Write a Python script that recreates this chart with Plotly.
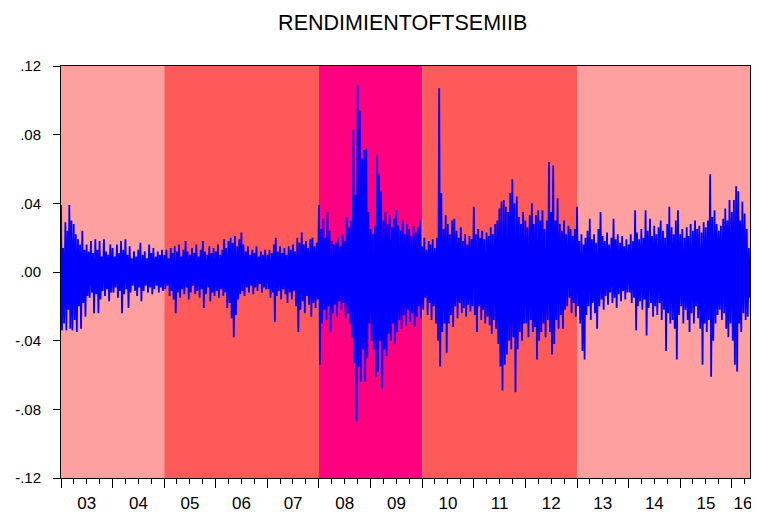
import pandas as pd
import plotly.graph_objects as go

# Half-month envelope of daily returns: highest (hi) and lowest (lo) value per half month
hi_03 = [.039,.014,.029,.024,.039,.030,.028,.022,.019,.016,.024,.013,.016,.012,.018,.011,.019,.013,.018,.009,.019,.012,.010,.016]
lo_03 = [-.034,-.030,-.034,-.022,-.033,-.034,-.028,-.035,-.020,-.033,-.018,-.026,-.014,-.015,-.012,-.024,-.013,-.024,-.016,-.011,-.014,-.010,-.017,-.012]
hi_04 = [.014,.009,.016,.011,.018,.013,.019,.010,.015,.008,.012,.009,.013,.017,.010,.012,.008,.016,.011,.014,.009,.012,.010,.013]
lo_04 = [-.012,-.009,-.015,-.011,-.024,-.013,-.010,-.021,-.012,-.008,-.011,-.014,-.009,-.017,-.011,-.008,-.012,-.009,-.013,-.010,-.008,-.012,-.009,-.011]
hi_05 = [.010,.013,.008,.014,.011,.015,.012,.016,.009,.013,.018,.012,.010,.014,.011,.016,.009,.013,.018,.012,.010,.015,.011,.014]
lo_05 = [-.010,-.008,-.014,-.011,-.016,-.024,-.012,-.015,-.010,-.013,-.009,-.016,-.012,-.008,-.013,-.011,-.015,-.010,-.021,-.013,-.009,-.017,-.012,-.014]
hi_06 = [.012,.016,.010,.013,.019,.014,.018,.020,.017,.021,.015,.019,.023,.016,.012,.015,.010,.013,.011,.015,.009,.012,.010,.013]
lo_06 = [-.011,-.015,-.010,-.014,-.012,-.021,-.018,-.027,-.038,-.025,-.016,-.013,-.011,-.014,-.009,-.012,-.008,-.013,-.009,-.011,-.007,-.012,-.009,-.010]
hi_07 = [.010,.013,.011,.016,.020,.012,.015,.011,.014,.010,.015,.013,.016,.012,.020,.017,.023,.016,.018,.014,.019,.020,.015,.017]
lo_07 = [-.010,-.015,-.012,-.029,-.014,-.011,-.016,-.010,-.013,-.018,-.012,-.016,-.011,-.020,-.035,-.022,-.017,-.024,-.014,-.019,-.026,-.018,-.021,-.016]
hi_08 = [.039,.025,.031,.020,.035,.024,.018,.016,.017,.020,.015,.022,.018,.032,.026,.030,.083,.045,.109,.094,.066,.071,.072,.035]
lo_08 = [-.054,-.030,-.022,-.028,-.020,-.035,-.024,-.019,-.026,-.017,-.022,-.018,-.027,-.024,-.030,-.038,-.053,-.087,-.055,-.064,-.045,-.064,-.050,-.030]
hi_09 = [.025,.022,.027,.068,.057,.047,.030,.035,.028,.033,.026,.031,.036,.027,.024,.030,.022,.028,.025,.021,.027,.023,.026,.030]
lo_09 = [-.040,-.045,-.061,-.058,-.040,-.068,-.045,-.049,-.036,-.040,-.030,-.042,-.035,-.028,-.033,-.025,-.031,-.022,-.029,-.024,-.032,-.026,-.020,-.027]
hi_10 = [.015,.020,.013,.018,.016,.019,.014,.020,.107,.046,.025,.033,.028,.022,.030,.031,.024,.020,.026,.018,.022,.016,.021,.019]
lo_10 = [-.022,-.015,-.025,-.018,-.028,-.020,-.030,-.040,-.055,-.035,-.030,-.047,-.030,-.025,-.032,-.020,-.027,-.018,-.024,-.021,-.026,-.019,-.023,-.020]
hi_11 = [.038,.022,.025,.020,.024,.019,.023,.021,.026,.022,.028,.030,.037,.041,.042,.038,.035,.046,.054,.040,.044,.032,.028,.035]
lo_11 = [-.025,-.035,-.020,-.028,-.022,-.030,-.026,-.031,-.036,-.028,-.033,-.042,-.055,-.069,-.054,-.048,-.040,-.045,-.038,-.070,-.045,-.035,-.040,-.030]
hi_12 = [.030,.026,.033,.040,.028,.033,.036,.030,.036,.025,.030,.064,.035,.062,.030,.043,.028,.024,.030,.022,.027,.025,.021,.025]
lo_12 = [-.030,-.038,-.028,-.035,-.032,-.051,-.040,-.035,-.030,-.038,-.028,-.035,-.048,-.042,-.028,-.033,-.025,-.033,-.022,-.020,-.015,-.024,-.018,-.026]
hi_13 = [.038,.018,.022,.016,.020,.024,.031,.019,.022,.017,.025,.035,.021,.018,.023,.016,.020,.031,.019,.022,.017,.021,.015,.019]
lo_13 = [-.020,-.030,-.046,-.051,-.025,-.020,-.028,-.018,-.024,-.033,-.020,-.016,-.022,-.014,-.019,-.012,-.018,-.015,-.021,-.013,-.017,-.011,-.016,-.012]
hi_14 = [.016,.022,.018,.036,.023,.019,.025,.020,.036,.024,.031,.021,.027,.022,.026,.030,.024,.020,.028,.038,.026,.022,.030,.036]
lo_14 = [-.012,-.018,-.015,-.034,-.020,-.017,-.022,-.016,-.037,-.021,-.018,-.026,-.020,-.025,-.018,-.028,-.022,-.046,-.024,-.030,-.028,-.033,-.051,-.025]
hi_15 = [.022,.025,.020,.026,.021,.028,.024,.030,.025,.027,.023,.029,.026,.030,.057,.032,.036,.028,.024,.027,.031,.037,.030,.042]
lo_15 = [-.020,-.030,-.022,-.028,-.035,-.024,-.030,-.020,-.027,-.033,-.054,-.030,-.035,-.028,-.061,-.040,-.030,-.025,-.022,-.028,-.024,-.033,-.038,-.030]
hi_16 = [.035,.042,.050,.047,.030,.041,.034,.025,.014]
lo_16 = [-.040,-.054,-.058,-.030,-.035,-.024,-.028,-.026,-.015]

years = list(range(2003, 2017))
hi_by_year = [hi_03, hi_04, hi_05, hi_06, hi_07, hi_08, hi_09, hi_10, hi_11, hi_12, hi_13, hi_14, hi_15, hi_16]
lo_by_year = [lo_03, lo_04, lo_05, lo_06, lo_07, lo_08, lo_09, lo_10, lo_11, lo_12, lo_13, lo_14, lo_15, lo_16]

year_labels = ["03", "04", "05", "06", "07", "08", "09", "10", "11", "12", "13", "14", "15", "16"]
y_ticks = [0.12, 0.08, 0.04, 0.0, -0.04, -0.08, -0.12]
y_tick_text = [".12", ".08", ".04", ".00", "-.04", "-.08", "-.12"]

# regimes: (start, end, colour)
regimes = [
    ("2003-01-01", "2005-01-01", "#FFA0A0"),
    ("2005-01-01", "2008-01-01", "#FF5A5A"),
    ("2008-01-01", "2010-01-01", "#FF0080"),
    ("2010-01-01", "2013-01-01", "#FF5A5A"),
    ("2013-01-01", "2016-05-09", "#FFA0A0"),
]
x_start, x_end = "2003-01-01", "2016-05-09"

# build zig-zag series
xs, ys = [], []
for yr, his, los in zip(years, hi_by_year, lo_by_year):
    for i, (h, l) in enumerate(zip(his, los)):
        m = i // 2 + 1
        d0 = 1 if i % 2 == 0 else 16
        xs.append(pd.Timestamp(yr, m, d0)); ys.append(h)
        xs.append(pd.Timestamp(yr, m, d0 + 7)); ys.append(l)

fig = go.Figure()
fig.add_trace(go.Scatter(x=xs, y=ys, mode="lines", line=dict(color="#0000FF", width=1.8),
                         showlegend=False, hoverinfo="skip"))
# invisible trace carrying the label axis
fig.add_trace(go.Scatter(x=[x_start, x_end], y=[0, 0], xaxis="x2", mode="lines",
                         line=dict(width=0), opacity=0, showlegend=False, hoverinfo="skip"))

for s, e, c in regimes:
    fig.add_shape(type="rect", xref="x", yref="paper", x0=s, x1=e, y0=0, y1=1,
                  fillcolor=c, line=dict(width=0), layer="below")

label_pos = [f"{y}-07-02" for y in years[:-1]] + ["2016-03-20"]

font = "Liberation Sans, Arial, sans-serif"
# the page body adds an 8px offset, so the figure is 8px smaller and margins are shifted
fig.update_layout(
    width=751, height=510,
    margin=dict(l=53, r=9, t=58, b=40, autoexpand=False),
    paper_bgcolor="white", plot_bgcolor="white",
    title=dict(text="RENDIMIENTOFTSEMIIB", xref="paper", x=0.496, xanchor="center",
               yref="container", y=0.971, yanchor="middle", automargin=False,
               font=dict(family=font, size=21.5, color="black")),
    xaxis=dict(type="date", range=[x_start, x_end], tick0="2003-01-01", dtick="M12",
               ticks="outside", ticklen=9, tickcolor="black", showticklabels=False, automargin=False,
               showgrid=False, zeroline=False, showline=True, linecolor="black", linewidth=1, mirror=True,
               minor=dict(dtick="M3", tick0="2003-01-01", ticks="outside", ticklen=5, tickcolor="black", showgrid=False)),
    xaxis2=dict(type="date", range=[x_start, x_end], overlaying="x", side="bottom", anchor="y",
                tickmode="array", tickvals=label_pos, ticktext=year_labels, ticks="", showgrid=False,
                showline=False, zeroline=False, ticklabelstandoff=13, automargin=False,
                tickfont=dict(family=font, size=17, color="black")),
    yaxis=dict(range=[-0.12, 0.12], tickmode="array", tickvals=y_ticks, ticktext=y_tick_text,
               ticks="outside", ticklen=7, tickcolor="black", showgrid=False, zeroline=False,
               showline=True, linecolor="black", linewidth=1, mirror=True, automargin=False,
               ticklabelstandoff=9,
               tickfont=dict(family=font, size=15, color="black")),
)

fig.write_html("out.html")
